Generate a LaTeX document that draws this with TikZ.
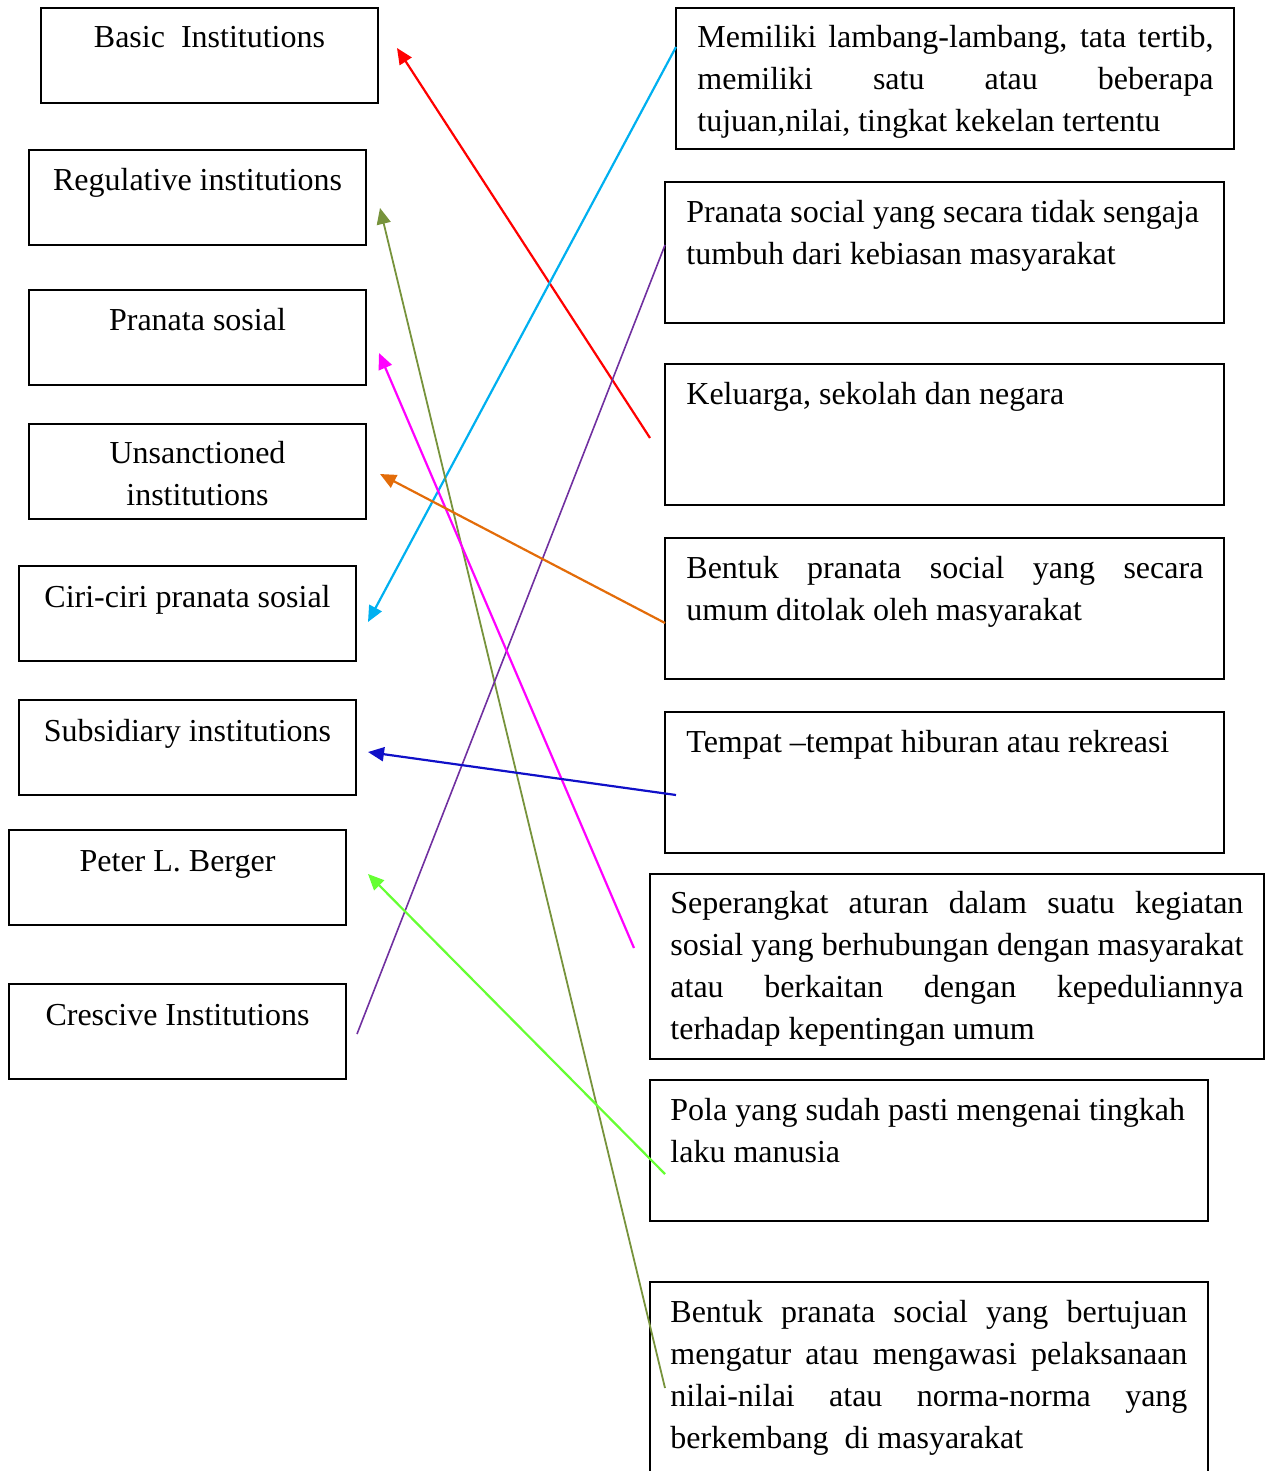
\documentclass[tikz,border=0pt]{standalone}
\usepackage{fontspec}
\setmainfont{Liberation Serif}
\usetikzlibrary{calc,arrows.meta}

\definecolor{cRed}{HTML}{FF0000}
\definecolor{cCyan}{HTML}{00B0F0}
\definecolor{cOlive}{HTML}{77933C}
\definecolor{cPurple}{HTML}{7030A0}
\definecolor{cMagenta}{HTML}{FF00FF}
\definecolor{cOrange}{HTML}{E36C09}
\definecolor{cBlue}{HTML}{1010C8}
\definecolor{cLime}{HTML}{66FF33}

% one justified line of a given width
\newcommand{\jl}[1]{\makebox[\linewidth][s]{#1}}

\begin{document}
\begin{tikzpicture}[x=0.5pt,y=-0.5pt,
  font=\fontsize{16}{21}\selectfont,
  cardbox/.style={draw=black,line width=1pt,inner sep=0pt,anchor=north west},
  ctext/.style={anchor=base,inner sep=0pt},
  ltext/.style={anchor=base west,inner sep=0pt},
  link/.style={line width=1.1pt,-{Triangle[length=8pt,width=7pt]}},
  plain/.style={line width=0.8pt}]

\useasboundingbox (0,0) rectangle (1270,1471);
\clip (0,0) rectangle (1270,1471);

% left column: terms
\node[cardbox,minimum width=337*0.5pt,minimum height=95*0.5pt] (basic)   at (40,7) {};
\node[cardbox,minimum width=337*0.5pt,minimum height=95*0.5pt] (regul)   at (28,149) {};
\node[cardbox,minimum width=337*0.5pt,minimum height=95*0.5pt] (pranata) at (28,289) {};
\node[cardbox,minimum width=337*0.5pt,minimum height=95*0.5pt] (unsanct) at (28,423) {};
\node[cardbox,minimum width=337*0.5pt,minimum height=95*0.5pt] (ciri)    at (18,565) {};
\node[cardbox,minimum width=337*0.5pt,minimum height=95*0.5pt] (subsid)  at (18,699) {};
\node[cardbox,minimum width=337*0.5pt,minimum height=95*0.5pt] (berger)  at (8,829) {};
\node[cardbox,minimum width=337*0.5pt,minimum height=95*0.5pt] (cresc)   at (8,983) {};

\node[ctext] (basict)   at ($(basic.north)+(0,41)$)   {Basic~~Institutions};
\node[ctext] (regult)   at ($(regul.north)+(0,42)$)   {Regulative institutions};
\node[ctext] (pranatat) at ($(pranata.north)+(0,41)$) {Pranata sosial};
\node[ctext] (unsanctt) at ($(unsanct.north)+(0,40)$) {\parbox[t]{150pt}{\centering Unsanctioned\\institutions}};
\node[ctext] (cirit)    at ($(ciri.north)+(0,42)$)    {Ciri-ciri pranata sosial};
\node[ctext] (subsidt)  at ($(subsid.north)+(0,42)$)  {Subsidiary institutions};
\node[ctext] (bergert)  at ($(berger.north)+(0,42)$)  {Peter L. Berger};
\node[ctext] (cresct)   at ($(cresc.north)+(0,42)$)   {Crescive Institutions};

% right column: descriptions
\node[cardbox,minimum width=558*0.5pt,minimum height=141*0.5pt] (memiliki)    at (675,7) {};
\node[cardbox,minimum width=559*0.5pt,minimum height=141*0.5pt] (tumbuh)      at (664,181) {};
\node[cardbox,minimum width=559*0.5pt,minimum height=141*0.5pt] (keluarga)    at (664,363) {};
\node[cardbox,minimum width=559*0.5pt,minimum height=141*0.5pt] (ditolak)     at (664,537) {};
\node[cardbox,minimum width=559*0.5pt,minimum height=141*0.5pt] (tempat)      at (664,711) {};
\node[cardbox,minimum width=614*0.5pt,minimum height=185*0.5pt] (seperangkat) at (649,873) {};
\node[cardbox,minimum width=558*0.5pt,minimum height=141*0.5pt] (pola)        at (649,1079) {};
\node[cardbox,minimum width=558*0.5pt,minimum height=250*0.5pt] (mengatur)    at (649,1281) {};

\node[ltext] (memilikit) at ($(memiliki.north west)+(22,41)$) {\parbox[t]{258pt}{%
  \jl{Memiliki lambang-lambang, tata tertib,}\\
  \jl{memiliki satu atau beberapa}\\
  tujuan,nilai, tingkat kekelan tertentu}};
\node[ltext] (tumbuht) at ($(tumbuh.north west)+(22,41)$) {\parbox[t]{262pt}{%
  Pranata social yang secara tidak sengaja\\
  tumbuh dari kebiasan masyarakat}};
\node[ltext] (keluargat) at ($(keluarga.north west)+(22,41)$) {Keluarga, sekolah dan negara};
\node[ltext] (ditolakt) at ($(ditolak.north west)+(22,41)$) {\parbox[t]{258.5pt}{%
  \jl{Bentuk pranata social yang secara}\\
  umum ditolak oleh masyarakat}};
\node[ltext] (tempatt) at ($(tempat.north west)+(22,41)$) {Tempat –tempat hiburan atau rekreasi};
\node[ltext] (seperangkatt) at ($(seperangkat.north west)+(21,40)$) {\parbox[t]{286.5pt}{%
  \jl{Seperangkat aturan dalam suatu kegiatan}\\
  \jl{sosial yang berhubungan dengan masyarakat}\\
  \jl{atau berkaitan dengan kepeduliannya}\\
  terhadap kepentingan umum}};
\node[ltext] (polat) at ($(pola.north west)+(21,41)$) {\parbox[t]{262pt}{%
  Pola yang sudah pasti mengenai tingkah\\
  laku manusia}};
\node[ltext] (mengaturt) at ($(mengatur.north west)+(21,41)$) {\parbox[t]{258.5pt}{%
  \jl{Bentuk pranata social yang bertujuan}\\
  \jl{mengatur atau mengawasi pelaksanaan}\\
  \jl{nilai-nilai atau norma-norma yang}\\
  berkembang~~di masyarakat}};

% matching lines
\draw[link,cRed]     ($(keluarga.north west)+(-14,75)$)   -- ($(basic.north east)+(18,41)$);
\draw[link,cCyan]    ($(memiliki.north west)+(1,40)$)     -- ($(ciri.north east)+(11,57)$);
\draw[link,cOlive,line width=0.9pt] ($(mengatur.north west)+(16,107)$) -- ($(regul.north east)+(13,59)$);
\draw[plain,cPurple] ($(cresc.north east)+(10,51)$)       -- ($(tumbuh.north west)+(1,64)$);
\draw[link,cMagenta] ($(seperangkat.north west)+(-15,75)$) -- ($(pranata.north east)+(12,64)$);
\draw[link,cOrange]  ($(ditolak.north west)+(1,86)$)      -- ($(unsanct.north east)+(13,51)$);
\draw[link,cBlue]    ($(tempat.north west)+(12,84)$)      -- ($(subsid.north east)+(11,53)$);
\draw[link,cLime]    ($(pola.north west)+(16,95)$)        -- ($(berger.north east)+(21,45)$);

\end{tikzpicture}
\end{document}
